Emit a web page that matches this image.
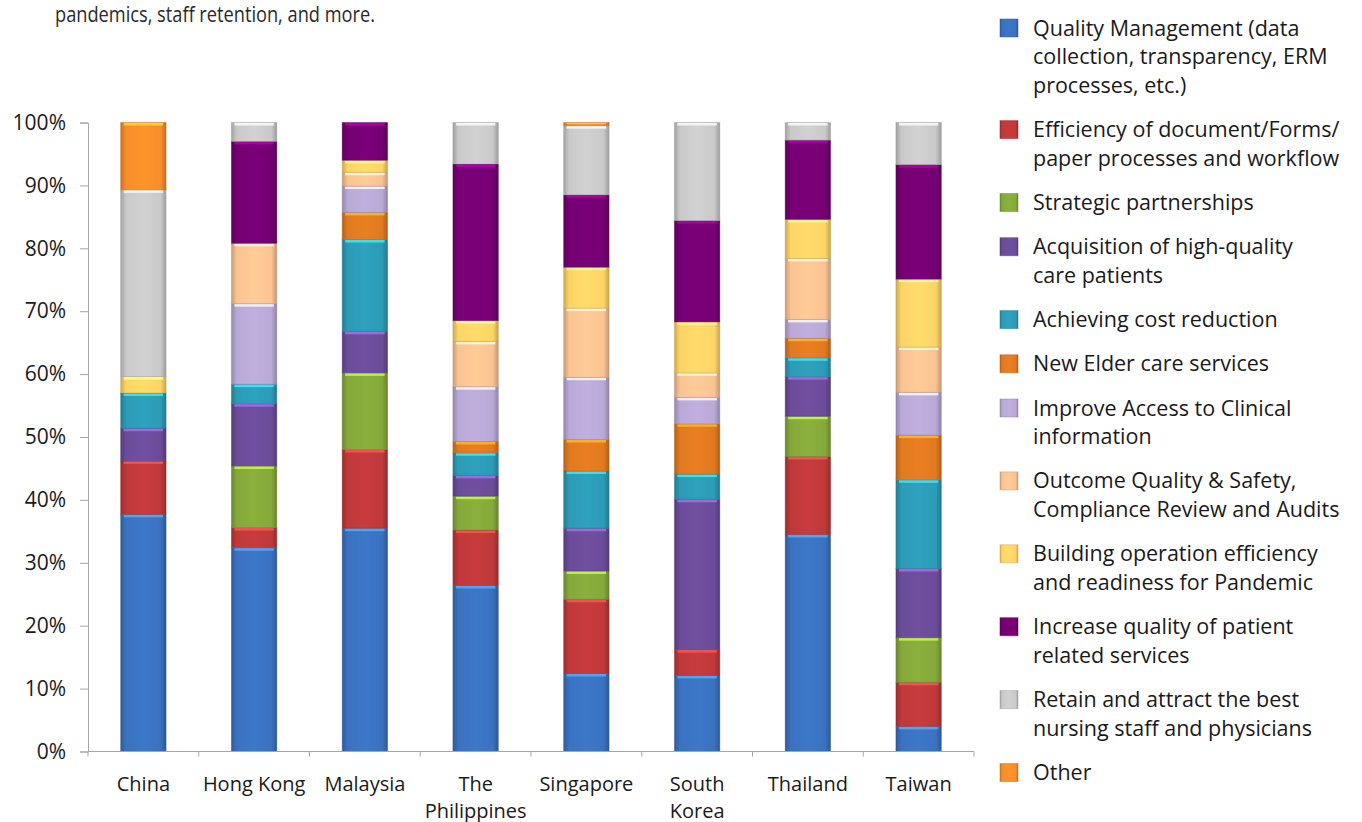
<!DOCTYPE html>
<html>
<head>
<meta charset="utf-8">
<script src="https://cdn.jsdelivr.net/npm/d3@7"></script>
<style>
  body { margin: 0; background: #fff; }
  svg { display: block; }
  text { fill: #1a1a1a; }
</style>
</head>
<body>
<div id="chart"></div>
<script>
// countries (a \n marks where the label wraps)
const categories = ['China', 'Hong Kong', 'Malaysia', 'The\nPhilippines', 'Singapore', 'South\nKorea', 'Thailand', 'Taiwan']

// share of answers per country, in %
const qualityMgmt = [37.7, 32.4, 35.5, 26.4, 12.4, 12.1, 34.5, 4.0]
const efficiency = [8.5, 3.2, 12.5, 8.8, 11.8, 4.1, 12.4, 7.0]
const partnerships = [0, 9.8, 12.2, 5.4, 4.5, 0, 6.4, 7.1]
const acquisition = [5.2, 9.9, 6.6, 3.3, 6.8, 23.9, 6.3, 11.0]
const costReduction = [5.6, 3.1, 14.6, 3.6, 9.1, 4.0, 3.0, 14.1]
const elderCare = [0, 0, 4.3, 1.8, 5.0, 8.0, 3.1, 7.1]
const clinicalAccess = [0, 12.8, 4.2, 8.7, 9.9, 4.2, 3.0, 6.8]
const outcomeQuality = [0, 9.6, 2.2, 7.2, 11.0, 3.9, 9.7, 7.2]
const buildingOps = [2.6, 0, 1.9, 3.3, 6.5, 8.1, 6.2, 10.8]
const patientServices = [0, 16.2, 6.0, 24.9, 11.5, 16.1, 12.6, 18.2]
const staffRetention = [29.7, 3.0, 0, 6.6, 11.0, 15.6, 2.8, 6.7]
const other = [10.7, 0, 0, 0, 0.5, 0, 0, 0]

const seriesValues = [qualityMgmt, efficiency, partnerships, acquisition, costReduction, elderCare,
  clinicalAccess, outcomeQuality, buildingOps, patientServices, staffRetention, other]

const seriesLabels = [
  ['Quality Management (data', 'collection, transparency, ERM', 'processes, etc.)'],
  ['Efficiency of document/Forms/', 'paper processes and workflow'],
  ['Strategic partnerships'],
  ['Acquisition of high-quality', 'care patients'],
  ['Achieving cost reduction'],
  ['New Elder care services'],
  ['Improve Access to Clinical', 'information'],
  ['Outcome Quality & Safety,', 'Compliance Review and Audits'],
  ['Building operation efficiency', 'and readiness for Pandemic'],
  ['Increase quality of patient', 'related services'],
  ['Retain and attract the best', 'nursing staff and physicians'],
  ['Other']
]

const yTicks = [0, 10, 20, 30, 40, 50, 60, 70, 80, 90, 100]

const colors = ['#3a72c0', '#c0393a', '#85a93a', '#6b4c99', '#2c9bb6', '#e07a20',
  '#b9a9d6', '#fac392', '#fdd466', '#750073', '#c9c9c9', '#f78e2a']

const margin = { top: 122.5, left: 88 }
const width = 886
const height = 629

const svg = d3
  .select('#chart')
  .append('svg')
  .attr('width', 1362)
  .attr('height', 822)

// intro text (last line of a paragraph above the chart), squeezed like the condensed original
svg
  .append('text')
  .attr('x', 55)
  .attr('y', 22)
  .attr('textLength', 320)
  .attr('lengthAdjust', 'spacingAndGlyphs')
  .style('font-family', '"Open Sans", sans-serif')
  .style('font-size', '21px')
  .style('fill', '#2a2a2a')
  .text('pandemics, staff retention, and more.')

// bevel-like gradients, one per colour
const defs = svg.append('defs')
colors.forEach((c, i) => {
  const g = defs
    .append('linearGradient')
    .attr('id', 'grad' + i)
    .attr('x1', '0%')
    .attr('x2', '100%')
  const stops = [
    [0, d3.color(c).darker(0.6)],
    [0.12, d3.color(c)],
    [0.5, d3.color(c).brighter(0.12)],
    [0.88, d3.color(c)],
    [1, d3.color(c).darker(0.7)]
  ]
  stops.forEach(s => {
    g.append('stop').attr('offset', s[0]).attr('stop-color', s[1])
  })
})

const chart = svg
  .append('g')
  .attr('transform', 'translate(' + margin.left + ',' + margin.top + ')')

const table = categories.map((c, i) => {
  const row = { country: c }
  seriesValues.forEach((s, k) => { row['s' + k] = s[i] })
  return row
})

const keys = seriesValues.map((s, k) => 's' + k)
const stacked = d3.stack().keys(keys)(table)

const xPositionScale = d3
  .scaleBand()
  .domain(categories)
  .range([0, width])
  .paddingInner(0.59)
  .paddingOuter(0.295)

const yPositionScale = d3
  .scaleLinear()
  .domain([0, 100])
  .range([height, 0])

// bars
const layers = chart
  .selectAll('.layer')
  .data(stacked)
  .enter()
  .append('g')
  .attr('class', 'layer')

const segments = layers
  .selectAll('g')
  .data((d, i) => d.map(p => ({ p: p, k: i })).filter(o => o.p[1] - o.p[0] > 0))
  .enter()
  .append('g')

segments
  .append('rect')
  .attr('x', d => xPositionScale(d.p.data.country))
  .attr('y', d => yPositionScale(d.p[1]))
  .attr('width', xPositionScale.bandwidth())
  .attr('height', d => yPositionScale(d.p[0]) - yPositionScale(d.p[1]))
  .attr('fill', d => 'url(#grad' + d.k + ')')
  .attr('stroke', d => d3.color(colors[d.k]).darker(0.8))
  .attr('stroke-opacity', 0.5)
  .attr('stroke-width', 0.8)

// light strip on top of each segment
segments
  .append('rect')
  .attr('x', d => xPositionScale(d.p.data.country) + 3)
  .attr('y', d => yPositionScale(d.p[1]) + 0.5)
  .attr('width', xPositionScale.bandwidth() - 6)
  .attr('height', d => Math.min(2.5, (yPositionScale(d.p[0]) - yPositionScale(d.p[1])) / 3))
  .attr('fill', d => d3.color(colors[d.k]).brighter(1.2))
  .attr('opacity', 0.8)

// y axis
const yAxis = d3
  .axisLeft(yPositionScale)
  .tickValues(yTicks)
  .tickSize(8)
  .tickPadding(14)
  .tickFormat(d => d + '%')

chart
  .append('g')
  .attr('class', 'axis y-axis')
  .call(yAxis)
  .call(g => g.selectAll('line, path').attr('stroke', '#a6a6a6'))
  .call(g => g.selectAll('text')
    .style('font-family', '"Open Sans", sans-serif')
    .style('font-size', '21px')
    .style('fill', '#1a1a1a'))

// x axis with ticks between the bars
const xAxis = chart
  .append('g')
  .attr('class', 'axis x-axis')
  .attr('transform', 'translate(0,' + height + ')')

xAxis
  .append('line')
  .attr('x1', 0)
  .attr('x2', width)
  .attr('stroke', '#a6a6a6')

const step = xPositionScale.step()
xAxis
  .selectAll('.tick-mark')
  .data(d3.range(categories.length + 1))
  .enter()
  .append('line')
  .attr('class', 'tick-mark')
  .attr('x1', i => i * step)
  .attr('x2', i => i * step)
  .attr('y1', 0)
  .attr('y2', 5)
  .attr('stroke', '#a6a6a6')

const xLabels = xAxis
  .selectAll('.x-label')
  .data(categories)
  .enter()
  .append('text')
  .attr('class', 'x-label')
  .attr('text-anchor', 'middle')
  .attr('transform', d => 'translate(' + (xPositionScale(d) + xPositionScale.bandwidth() / 2) + ',39)')
  .style('font-family', '"Open Sans", sans-serif')
  .style('font-size', '20px')

xLabels
  .selectAll('tspan')
  .data(d => d.split('\n'))
  .enter()
  .append('tspan')
  .attr('x', 0)
  .attr('dy', (d, i) => i === 0 ? 0 : 27)
  .text(d => d)

// legend
const lineHeight = 28.7
const entryGap = 15.5
let legendY = 28
const legend = svg.append('g').attr('class', 'legend')

seriesLabels.forEach((lines, i) => {
  const item = legend.append('g').attr('transform', 'translate(1000,' + legendY + ')')
  item
    .append('rect')
    .attr('x', 0)
    .attr('y', -9)
    .attr('width', 18)
    .attr('height', 18)
    .attr('fill', 'url(#grad' + i + ')')
    .attr('stroke', d3.color(colors[i]).darker(0.6))
    .attr('stroke-opacity', 0.5)
  item
    .append('text')
    .attr('x', 33)
    .attr('y', 7.5)
    .style('font-family', '"Open Sans", sans-serif')
    .style('font-size', '21.5px')
    .selectAll('tspan')
    .data(lines)
    .enter()
    .append('tspan')
    .attr('x', 33)
    .attr('dy', (d, k) => k === 0 ? 0 : lineHeight)
    .text(d => d)
  legendY += lines.length * lineHeight + entryGap
})
</script>
</body>
</html>
